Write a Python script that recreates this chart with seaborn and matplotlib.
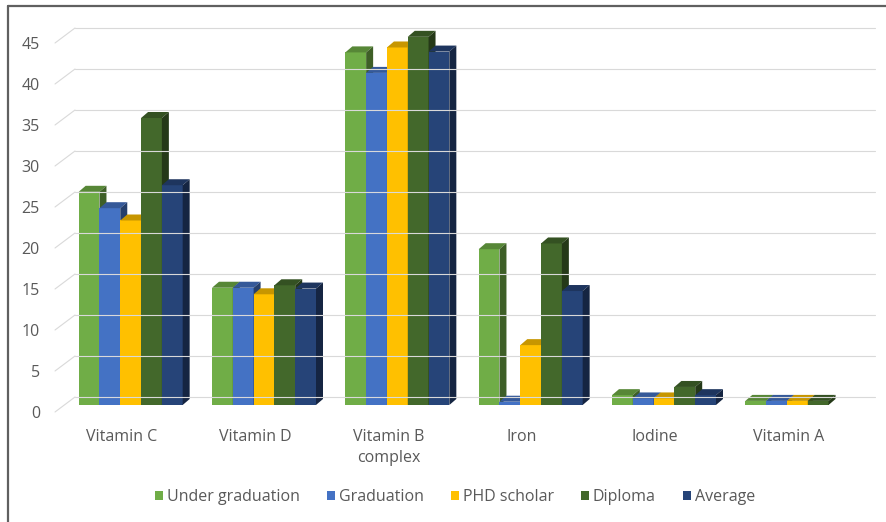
import numpy as np
import pandas as pd
import seaborn as sns
import matplotlib
matplotlib.use("Agg")
import matplotlib.pyplot as plt
import matplotlib.colors as mcolors
from matplotlib.patches import Polygon, Patch
from matplotlib.lines import Line2D
from matplotlib.transforms import ScaledTranslation, IdentityTransform

# ---- data -------------------------------------------------------------
categories = ["Vitamin C", "Vitamin D", "Vitamin B\ncomplex", "Iron", "Iodine", "Vitamin A"]
series_names = ["Under graduation", "Graduation", "PHD scholar", "Diploma", "Average"]
under_graduation = [26.0, 14.3, 43.0, 19.0, 1.2, 0.5]
graduation = [24.0, 14.3, 40.5, 0.4, 0.8, 0.5]
phd_scholar = [22.5, 13.5, 43.6, 7.3, 0.8, 0.5]
diploma = [35.0, 14.6, 44.9, 19.7, 2.2, 0.5]
average = [26.8, 14.2, 43.1, 13.9, 1.2, None]
y_ticks = [0, 5, 10, 15, 20, 25, 30, 35, 40, 45]

colors = ["#70AD47", "#4472C4", "#FFC000", "#43682B", "#264478"]
text_color = "#595959"
grid_color = "#D9D9D9"

rows = []
for name, vals in zip(series_names, [under_graduation, graduation, phd_scholar, diploma, average]):
    for cat, v in zip(categories, vals):
        if v is not None:
            rows.append({"category": cat, "series": name, "value": v})
df = pd.DataFrame(rows)

# ---- figure -----------------------------------------------------------
sns.set_theme(style="white")
plt.rcParams["font.family"] = ["Open Sans", "DejaVu Sans"]

W, H, DPI = 886, 522, 100
fig = plt.figure(figsize=(W / DPI, H / DPI), dpi=DPI)
fig.patch.set_facecolor("white")
ax = fig.add_axes([64 / W, 117 / H, 800 / W, 369 / H])
ax.set_facecolor("none")

sns.barplot(data=df, x="category", y="value", hue="series",
            order=categories, hue_order=series_names, palette=colors,
            width=0.78, saturation=1, linewidth=0, errorbar=None,
            legend=False, ax=ax)

ax.set_xlim(-0.5, len(categories) - 0.5)
ax.set_ylim(0, 45)
ax.set_yticks(y_ticks)
ax.set_xlabel("")
ax.set_ylabel("")
ax.grid(False)
for s in ax.spines.values():
    s.set_visible(False)

# pixel offsets of the front floor edge and the back wall relative to the bar plane
FRONT = (-9, -7)
BACK = (11, 8)
DEPTH = (7, 6)

# pixel -> data scale
x_per_px = (ax.get_xlim()[1] - ax.get_xlim()[0]) / 800
y_per_px = (ax.get_ylim()[1] - ax.get_ylim()[0]) / 369

# back wall gridlines and floor diagonals
for v in y_ticks:
    x0d, yd = ax.transData.transform((ax.get_xlim()[0], v))
    x1d, _ = ax.transData.transform((ax.get_xlim()[1], v))
    fig.add_artist(Line2D([x0d + BACK[0], x1d + BACK[0]], [yd + BACK[1], yd + BACK[1]],
                          transform=IdentityTransform(), color=grid_color, lw=0.8, zorder=0.5))
    fig.add_artist(Line2D([x0d + FRONT[0], x0d + BACK[0]], [yd + FRONT[1], yd + BACK[1]],
                          transform=IdentityTransform(), color=grid_color, lw=0.8, zorder=0.5))


def shade(c, f):
    r, g, b = mcolors.to_rgb(c)
    return (r * f, g * f, b * f)


# extrude the bars: top and right side faces, drawn left to right
bars = [p for p in ax.patches if np.isfinite(p.get_height())]
bars.sort(key=lambda p: p.get_x())
dx, dy = DEPTH[0] * x_per_px, DEPTH[1] * y_per_px
for k, p in enumerate(bars):
    x0, w, h = p.get_x(), p.get_width(), p.get_height()
    fc = p.get_facecolor()
    z = 3 + 2 * k
    p.set_zorder(z)
    top = Polygon([(x0, h), (x0 + w, h), (x0 + w + dx, h + dy), (x0 + dx, h + dy)],
                  closed=True, facecolor=shade(fc, 0.78), edgecolor="none", zorder=z + 0.5,
                  clip_on=False)
    side = Polygon([(x0 + w, 0), (x0 + w, h), (x0 + w + dx, h + dy), (x0 + w + dx, dy)],
                   closed=True, facecolor=shade(fc, 0.55), edgecolor="none", zorder=z + 0.5,
                   clip_on=False)
    ax.add_patch(top)
    ax.add_patch(side)

# ticks
FS = 11.5
ax.tick_params(axis="both", length=0, colors=text_color, labelsize=FS)
ax.tick_params(axis="y", pad=10.8)
ax.tick_params(axis="x", pad=12.5)
shift = ScaledTranslation(FRONT[0] / DPI, FRONT[1] / DPI, fig.dpi_scale_trans)
for lbl in ax.get_yticklabels() + ax.get_xticklabels():
    lbl.set_transform(lbl.get_transform() + shift)
for lbl in ax.get_xticklabels():
    lbl.set_linespacing(1.35)

# legend
handles = [Patch(facecolor=c, edgecolor="none", label=n) for n, c in zip(series_names, colors)]
fig.legend(handles=handles, loc="center", bbox_to_anchor=(455 / W, 1 - 497 / H),
           ncol=5, frameon=False, fontsize=FS, labelcolor=text_color,
           handlelength=0.5, handleheight=0.5, handletextpad=0.25, columnspacing=1.7)

# outer frame (top and left edges)
fig.add_artist(Line2D([8 / W, 1], [1 - 5.5 / H, 1 - 5.5 / H], color="#606060", lw=1.6))
fig.add_artist(Line2D([8 / W, 8 / W], [0, 1 - 5.5 / H], color="#606060", lw=1.6))

fig.savefig("out.png", dpi=DPI, facecolor="white")
